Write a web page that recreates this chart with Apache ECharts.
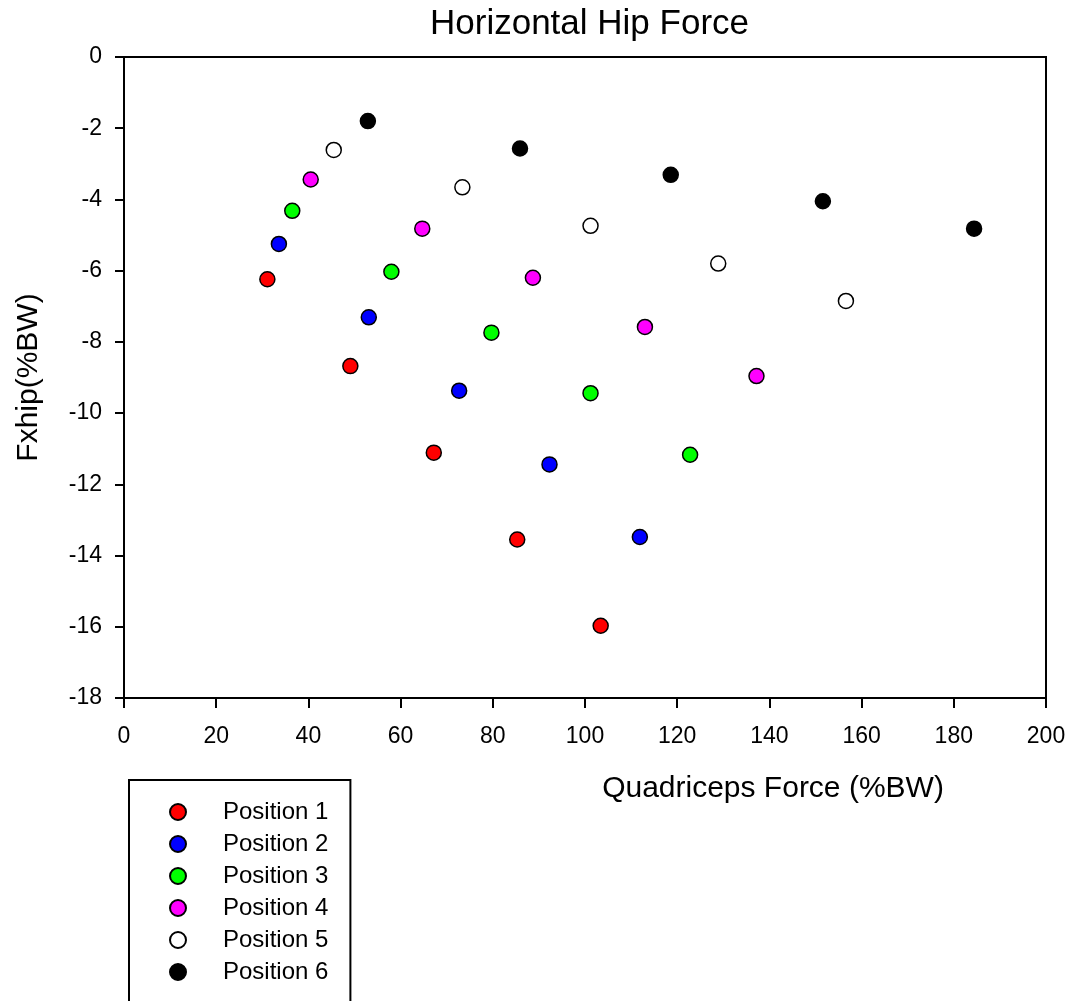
<!DOCTYPE html>
<html>
<head>
<meta charset="utf-8">
<title>Horizontal Hip Force</title>
<script src="https://cdn.jsdelivr.net/npm/echarts@6/dist/echarts.min.js"></script>
<style>
    html, body { margin: 0; padding: 0; background: #fff; }
    #chart { width: 1070px; height: 1001px; }
</style>
</head>
<body>
<div id="chart"></div>
<script>
// 数据：每个位置 5 个点，[股四头肌力, Fxhip]
const seriesNames = ["Position 1", "Position 2", "Position 3", "Position 4", "Position 5", "Position 6"];
const seriesColors = ["#FF0000", "#0000FF", "#00FF00", "#FF00FF", "#FFFFFF", "#000000"];

const pos1 = [[31.1, -6.24], [49.1, -8.68], [67.2, -11.11], [85.3, -13.55], [103.4, -15.97]];
const pos2 = [[33.6, -5.25], [53.1, -7.31], [72.7, -9.37], [92.3, -11.44], [111.9, -13.48]];
const pos3 = [[36.5, -4.32], [58.0, -6.03], [79.7, -7.74], [101.2, -9.44], [122.8, -11.17]];
const pos4 = [[40.5, -3.44], [64.7, -4.82], [88.7, -6.20], [113.0, -7.58], [137.2, -8.96]];
const pos5 = [[45.5, -2.61], [73.4, -3.66], [101.2, -4.74], [128.9, -5.80], [156.6, -6.85]];
const pos6 = [[52.9, -1.80], [85.9, -2.57], [118.6, -3.31], [151.6, -4.05], [184.4, -4.82]];

const allData = [pos1, pos2, pos3, pos4, pos5, pos6];

const FONT = "'Liberation Sans', Arial, sans-serif";

const chart = echarts.init(document.getElementById("chart"));

const series = allData.map((d, i) => ({
    name: seriesNames[i],
    type: "scatter",
    data: d,
    symbol: "circle",
    symbolSize: 15,
    itemStyle: { color: seriesColors[i], borderColor: "#000", borderWidth: 1.5, opacity: 1 },
    emphasis: { disabled: true },
}));

chart.setOption({
    backgroundColor: "#fff",
    animation: false,
    title: {
        text: "Horizontal Hip Force",
        left: 430,
        top: 7,
        padding: 0,
        textStyle: { fontFamily: FONT, fontSize: 35, fontWeight: "normal", color: "#000" },
    },
    grid: {
        left: 124, right: 24, top: 57, bottom: 303,
        show: true, borderColor: "#000", borderWidth: 2,
    },
    // 图例：竖排，外框伸出画布底部
    legend: {
        orient: "vertical",
        left: 129,
        top: 780,
        height: 240,
        padding: [20, 22, 40, 40],
        borderColor: "#000",
        borderWidth: 2,
        icon: "circle",
        itemWidth: 16,
        itemHeight: 16,
        itemGap: 8,
        selectedMode: false,
        data: seriesNames,
        textStyle: { fontFamily: FONT, fontSize: 24, color: "#000", padding: [0, 0, 0, 32] },
    },
    xAxis: {
        type: "value",
        min: 0, max: 200, interval: 20,
        name: "Quadriceps Force (%BW)",
        nameLocation: "middle",
        nameGap: 76,
        nameTextStyle: { fontFamily: FONT, fontSize: 30, color: "#000", padding: [0, 0, 0, 376] },
        axisLine: { onZero: false, lineStyle: { color: "#000", width: 2 } },
        axisTick: { show: true, length: 10, lineStyle: { color: "#000", width: 2 } },
        axisLabel: { fontFamily: FONT, fontSize: 23, color: "#000", margin: 27 },
        splitLine: { show: false },
    },
    yAxis: {
        type: "value",
        min: -18, max: 0, interval: 2,
        name: "Fxhip(%BW)",
        nameLocation: "middle",
        nameGap: 80,
        nameTextStyle: { fontFamily: FONT, fontSize: 30, color: "#000" },
        axisLine: { onZero: false, lineStyle: { color: "#000", width: 2 } },
        axisTick: { show: true, length: 9, lineStyle: { color: "#000", width: 2 } },
        axisLabel: { fontFamily: FONT, fontSize: 23, color: "#000", margin: 22 },
        splitLine: { show: false },
    },
    series: series,
});
</script>
</body>
</html>
